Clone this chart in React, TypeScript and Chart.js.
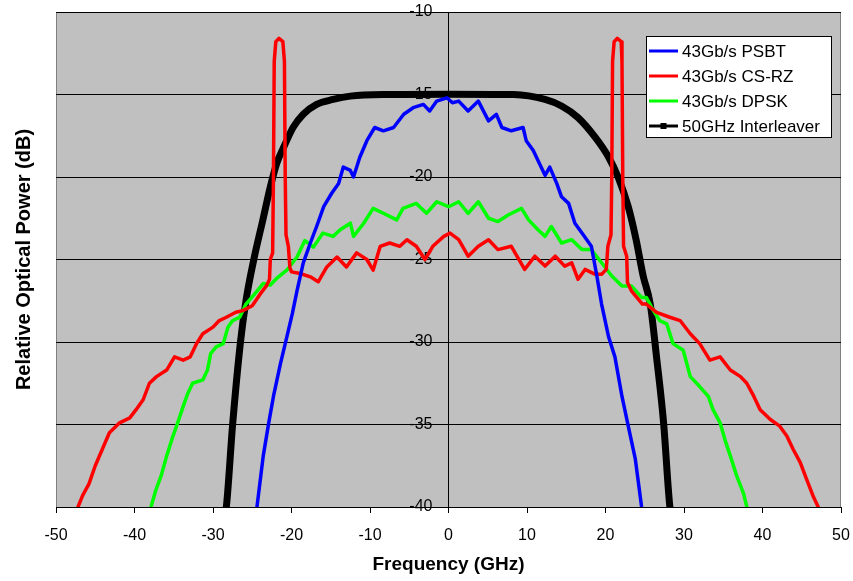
import React, { useEffect, useRef } from 'react';
import { Chart, registerables } from 'chart.js';

Chart.register(...registerables);

const FONT = 'Arial, "Liberation Sans", Helvetica, sans-serif';

// ---- Data (GHz, dB) ----
const psbtFreq = [-24.8, -24.4, -23.6, -22.9, -22.3, -21.4, -20.6, -19.9, -19.3, -18.5, -17.6, -16.8, -15.9, -14.9, -14.0, -13.4, -12.5, -12.1, -11.3, -10.4, -9.4, -8.3, -7.0, -5.7, -4.5, -3.2, -2.4, -1.5, -0.2, 0.5, 1.3, 2.5, 3.8, 5.1, 6.1, 6.8, 8.0, 9.5, 9.9, 10.8, 11.4, 12.3, 12.9, 13.8, 14.4, 15.3, 16.1, 17.0, 18.2, 18.9, 19.5, 20.4, 21.2, 22.1, 22.9, 23.8, 24.6, 24.8];
const psbtPower = [-40.5, -40.0, -36.9, -34.9, -33.3, -31.3, -29.7, -28.3, -26.9, -25.2, -24.0, -23.0, -21.8, -21.0, -20.4, -19.4, -19.6, -20.0, -18.8, -17.8, -17.0, -17.2, -17.0, -16.2, -15.8, -15.6, -16.0, -15.4, -15.2, -15.5, -15.4, -16.0, -15.4, -16.6, -16.2, -17.0, -17.2, -17.0, -17.8, -18.4, -19.0, -19.9, -19.4, -20.4, -21.2, -21.6, -22.8, -23.4, -24.2, -26.0, -27.7, -29.7, -30.9, -33.3, -35.1, -37.1, -40.0, -40.5];

const csrzFreq = [-47.4, -47.2, -46.6, -45.8, -45.0, -44.1, -43.2, -41.9, -40.6, -39.8, -38.9, -38.1, -37.2, -35.9, -34.9, -33.8, -32.9, -32.1, -31.3, -30.0, -29.2, -28.3, -27.1, -26.2, -25.0, -24.0, -23.2, -22.8, -22.7, -22.4, -22.3, -22.2, -22.0, -21.6, -21.1, -20.9, -20.8, -20.7, -20.4, -20.2, -20.0, -18.9, -17.6, -16.6, -15.5, -14.2, -13.0, -11.7, -10.4, -9.6, -8.7, -7.5, -6.2, -5.3, -4.1, -3.0, -2.0, -0.6, 0.2, 1.3, 2.5, 3.8, 5.1, 6.3, 8.0, 9.7, 11.0, 12.3, 13.6, 14.8, 15.7, 16.5, 17.4, 18.7, 19.5, 20.1, 20.3, 20.7, 20.8, 20.9, 21.1, 21.5, 22.0, 22.1, 22.2, 22.3, 22.7, 22.8, 23.3, 24.7, 25.2, 26.5, 28.2, 29.5, 30.8, 32.0, 33.3, 34.6, 35.9, 37.2, 38.0, 38.9, 39.7, 41.0, 42.2, 43.1, 43.9, 44.8, 45.6, 46.5, 47.1, 47.3];
const csrzPower = [-40.5, -40.0, -39.3, -38.6, -37.5, -36.5, -35.5, -34.9, -34.6, -34.1, -33.5, -32.5, -32.1, -31.7, -30.9, -31.1, -30.9, -30.1, -29.5, -29.1, -28.7, -28.5, -28.2, -28.1, -27.8, -27.1, -26.6, -26.2, -25.0, -24.6, -20.0, -13.0, -11.8, -11.6, -11.8, -13.0, -20.0, -23.5, -24.2, -25.5, -25.75, -25.85, -26.05, -26.35, -25.45, -24.85, -25.45, -24.6, -25.0, -25.65, -24.2, -24.0, -24.2, -23.8, -24.2, -25.0, -24.2, -23.6, -23.4, -23.8, -24.8, -24.2, -23.8, -24.4, -24.2, -25.6, -24.8, -25.4, -24.8, -25.4, -25.2, -26.2, -25.6, -25.9, -25.9, -25.6, -24.2, -23.5, -20.0, -13.0, -11.8, -11.6, -11.8, -13.0, -20.0, -24.2, -24.8, -26.4, -26.9, -27.7, -27.7, -28.2, -28.5, -28.7, -29.5, -30.1, -31.1, -30.9, -31.7, -32.1, -32.5, -33.3, -34.1, -34.7, -35.1, -35.7, -36.5, -37.3, -38.3, -39.4, -40.0, -40.5];

const dpskFreq = [-38.1, -37.9, -37.3, -36.6, -35.9, -35.1, -34.5, -33.8, -33.2, -32.6, -31.3, -30.7, -30.3, -29.6, -28.7, -28.1, -27.5, -26.6, -25.8, -24.7, -23.6, -22.7, -21.9, -20.6, -19.3, -18.3, -17.2, -16.0, -14.7, -13.8, -12.5, -12.1, -10.8, -9.6, -8.3, -6.6, -5.8, -4.1, -2.8, -1.5, 0.0, 1.3, 2.5, 3.8, 5.1, 6.3, 7.6, 9.3, 10.2, 11.4, 12.3, 13.1, 14.4, 15.7, 17.0, 18.2, 19.5, 20.8, 22.1, 23.3, 24.6, 25.2, 26.1, 26.9, 27.8, 28.6, 29.9, 30.8, 32.0, 33.1, 33.7, 34.6, 35.2, 35.9, 36.7, 37.6, 38.0, 38.2];
const dpskPower = [-40.5, -40.0, -39.0, -38.1, -36.9, -35.7, -34.9, -33.9, -33.1, -32.5, -32.3, -31.7, -30.7, -30.3, -30.1, -29.1, -28.7, -28.5, -27.7, -27.1, -26.45, -26.55, -26.15, -25.65, -24.85, -23.85, -24.25, -23.4, -23.6, -23.2, -22.8, -23.6, -22.8, -21.9, -22.2, -22.6, -21.9, -21.6, -22.2, -21.5, -21.8, -21.5, -22.2, -21.5, -22.5, -22.7, -22.3, -21.9, -22.6, -23.2, -23.6, -23.0, -24.0, -23.8, -24.4, -24.4, -25.2, -26.0, -26.6, -26.6, -27.3, -27.3, -28.1, -28.7, -28.9, -30.1, -30.5, -32.1, -32.7, -33.3, -34.1, -34.9, -35.9, -36.9, -38.1, -39.2, -40.0, -40.5];

const ilvFreq = [-28.5, -28.3, -27.5, -26.5, -25.8, -24.8, -23.6, -22.7, -21.9, -21.0, -19.8, -18.5, -16.8, -14.7, -12.5, -8.3, 0.0, 8.3, 12.3, 14.4, 16.5, 18.7, 20.4, 21.6, 22.9, 23.9, 24.8, 25.7, 26.5, 27.4, 28.2, 28.4];
const ilvPower = [-40.5, -40.0, -35.0, -30.0, -27.5, -25.0, -22.5, -20.6, -19.2, -18.2, -17.0, -16.2, -15.6, -15.3, -15.1, -15.0, -14.98, -15.0, -15.3, -15.7, -16.4, -17.6, -18.8, -20.0, -21.8, -23.8, -26.0, -27.7, -30.9, -34.9, -40.0, -40.5];

const seriesLabels = ['43Gb/s PSBT', '43Gb/s CS-RZ', '43Gb/s DPSK', '50GHz Interleaver'];
const seriesColors = ['#0000ff', '#ff0000', '#00ff00', '#000000'];

const xMin = -50, xMax = 50, xStep = 10;
const yMin = -40, yMax = -10, yStep = 5;

function pts(xs: number[], ys: number[]) {
  return xs.map((x, i) => ({ x, y: ys[i] }));
}

const plotBgPlugin = {
  id: 'plotBg',
  beforeDraw(chart: any) {
    const { ctx, chartArea } = chart;
    const { left, top, right, bottom } = chartArea;
    ctx.save();
    ctx.fillStyle = '#c0c0c0';
    ctx.fillRect(left, top, right - left, bottom - top);
    ctx.strokeStyle = '#808080';
    ctx.lineWidth = 1;
    ctx.beginPath();
    ctx.moveTo(left + 0.5, bottom);
    ctx.lineTo(left + 0.5, top + 0.5);
    ctx.lineTo(right - 0.5, top + 0.5);
    ctx.lineTo(right - 0.5, bottom);
    ctx.stroke();
    ctx.restore();
  },
};

const boxLegendPlugin = {
  id: 'boxLegend',
  afterDraw(chart: any) {
    const { ctx, chartArea } = chart;
    const w = 186, h = 102;
    const x0 = chartArea.right - 195;
    const y0 = chartArea.top + 24;
    ctx.save();
    ctx.fillStyle = '#ffffff';
    ctx.fillRect(x0, y0, w, h);
    ctx.strokeStyle = '#000000';
    ctx.lineWidth = 1;
    ctx.strokeRect(x0 + 0.5, y0 + 0.5, w - 1, h - 1);
    ctx.font = `17px ${FONT}`;
    ctx.textBaseline = 'middle';
    ctx.textAlign = 'left';
    chart.data.datasets.forEach((ds: any, i: number) => {
      const y = y0 + 15 + i * 25;
      ctx.strokeStyle = ds.borderColor;
      ctx.lineWidth = 3;
      ctx.beginPath();
      ctx.moveTo(x0 + 3, y);
      ctx.lineTo(x0 + 32, y);
      ctx.stroke();
      if (i === 3) {
        ctx.fillStyle = '#000';
        ctx.fillRect(x0 + 14.5, y - 3, 6, 6);
      }
      ctx.fillStyle = '#000';
      ctx.fillText(ds.label, x0 + 36, y + 1);
    });
    ctx.restore();
  },
};

export default function App() {
  const ref = useRef<HTMLCanvasElement | null>(null);

  useEffect(() => {
    document.body.style.margin = '0';
    if (!ref.current) return;
    const data = [pts(psbtFreq, psbtPower), pts(csrzFreq, csrzPower), pts(dpskFreq, dpskPower), pts(ilvFreq, ilvPower)];
    const chart = new Chart(ref.current, {
      type: 'line',
      data: {
        datasets: data.map((d, i) => ({
          label: seriesLabels[i],
          data: d,
          borderColor: seriesColors[i],
          backgroundColor: seriesColors[i],
          borderWidth: i === 3 ? 7 : 3.5,
          pointRadius: 0,
          fill: false,
          tension: 0,
          cubicInterpolationMode: i === 3 ? 'monotone' : 'default',
          borderJoinStyle: 'round',
        })) as any,
      },
      options: {
        responsive: false,
        animation: false,
        devicePixelRatio: 1,
        layout: { padding: { left: 0, right: 12, top: 12, bottom: 0 } },
        plugins: { legend: { display: false }, tooltip: { enabled: false } },
        scales: {
          x: {
            type: 'linear',
            min: xMin,
            max: xMax,
            ticks: { stepSize: xStep, font: { family: FONT, size: 16 }, color: '#000', padding: 13, maxRotation: 0 },
            grid: { display: true, drawOnChartArea: false, drawTicks: true, tickLength: 6, color: '#000' },
            border: { display: true, color: '#000', width: 1 },
            title: { display: true, text: 'Frequency (GHz)', font: { family: FONT, size: 19, weight: 'bold' }, color: '#000', padding: { top: 0, bottom: 5 } },
            afterFit: (s: any) => { s.height = 74; s.paddingLeft = 0; s.paddingRight = 0; },
          },
          y: {
            type: 'linear',
            position: 'left',
            min: yMin,
            max: yMax,
            ticks: { display: false, stepSize: yStep },
            grid: { color: '#000', drawTicks: false, lineWidth: 1 },
            border: { display: false },
            title: { display: true, text: 'Relative Optical Power (dB)', font: { family: FONT, size: 20, weight: 'bold' }, color: '#000', padding: { top: 12, bottom: 0 } },
            afterFit: (s: any) => { s.width = 56; s.paddingTop = 0; s.paddingBottom = 0; },
          },
          yZero: {
            axis: 'y',
            type: 'linear',
            position: { x: 0 },
            min: yMin,
            max: yMax,
            ticks: {
              stepSize: yStep,
              font: { family: FONT, size: 16 },
              color: '#000',
              padding: 9,
              // labels sit left of the axis line (tick mark + gap)
              callback: (v: any) => `${v}\u2009\u2009\u2009\u2009\u2009`,
            },
            grid: { display: true, drawOnChartArea: false, drawTicks: true, tickLength: 5, color: '#000' },
            border: { display: true, color: '#000', width: 1 },
            afterFit: (s: any) => { s.paddingTop = 0; s.paddingBottom = 0; },
          },
        } as any,
      },
      plugins: [plotBgPlugin, boxLegendPlugin],
    });
    return () => chart.destroy();
  }, []);

  return (
    <div style={{ width: 853, height: 581 }}>
      <canvas ref={ref} width={853} height={581} style={{ display: 'block' }} />
    </div>
  );
}
